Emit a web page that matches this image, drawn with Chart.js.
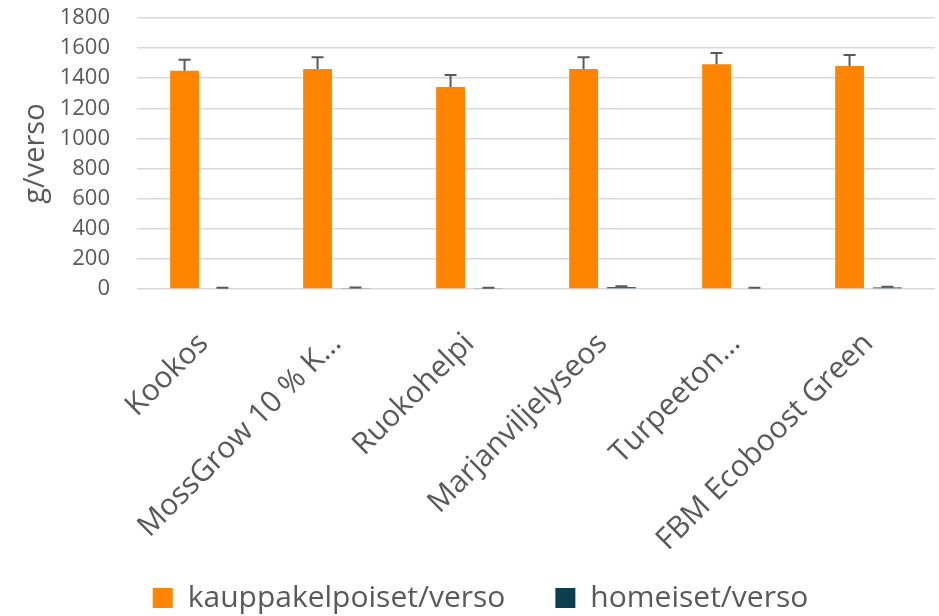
<!DOCTYPE html>
<html>
<head>
<meta charset="utf-8">
<script src="https://cdn.jsdelivr.net/npm/chart.js@4/dist/chart.umd.min.js"></script>
<style>
html,body{margin:0;padding:0;background:#fff;}
#wrap{width:939px;height:616px;position:relative;}
</style>
</head>
<body>
<div id="wrap"><canvas id="c" width="939" height="616"></canvas></div>
<script>
const categories = ["Kookos", "MossGrow 10 % K…", "Ruokohelpi", "Marjanviljelyseos", "Turpeeton…", "FBM Ecoboost Green"];
const kauppakelpoiset = [1449, 1462, 1342, 1462, 1493, 1482];
const kauppakelpoisetErr = [73, 78, 80, 78, 74, 73];
const homeiset = [5, 6, 4, 12, 5, 10];
const homeisetErr = [4, 4, 4, 6, 4, 5];
const yTicks = [0, 200, 400, 600, 800, 1000, 1200, 1400, 1600, 1800];

const errorValues = [kauppakelpoisetErr, homeisetErr];

const errorBarPlugin = {
  id: 'errorBars',
  afterDatasetsDraw(chart) {
    const ctx = chart.ctx;
    const y = chart.scales.y;
    ctx.save();
    ctx.strokeStyle = '#595959';
    ctx.lineWidth = 2;
    chart.data.datasets.forEach((ds, i) => {
      const meta = chart.getDatasetMeta(i);
      meta.data.forEach((bar, j) => {
        const v = ds.data[j];
        const e = errorValues[i][j];
        const yTop = y.getPixelForValue(v + e);
        const yBase = y.getPixelForValue(v);
        const x = bar.x;
        ctx.beginPath();
        ctx.moveTo(x, yBase);
        ctx.lineTo(x, yTop);
        ctx.moveTo(x - 6, yTop);
        ctx.lineTo(x + 6, yTop);
        ctx.stroke();
      });
    });
    ctx.restore();
  }
};

const legendShift = {
  id: 'legendShift',
  afterLayout(chart) {
    if (chart.legend) { chart.legend.left += 13; chart.legend.right += 13; }
  }
};

new Chart(document.getElementById('c'), {
  type: 'bar',
  data: {
    labels: categories,
    datasets: [
      { label: 'kauppakelpoiset/verso', data: kauppakelpoiset, backgroundColor: '#ff8400', categoryPercentage: 0.57, barPercentage: 0.76 },
      { label: 'homeiset/verso', data: homeiset, backgroundColor: '#0b3f4e', categoryPercentage: 0.57, barPercentage: 0.76 }
    ]
  },
  options: {
    responsive: false,
    animation: false,
    layout: { padding: { left: 0, right: 4, top: 18, bottom: -7 } },
    plugins: {
      legend: {
        position: 'bottom',
        labels: {
          color: '#595959',
          font: { family: 'Open Sans', size: 30 },
          boxWidth: 20, boxHeight: 20, padding: 50
        }
      },
      tooltip: { enabled: false }
    },
    scales: {
      x: {
        grid: { display: false },
        border: { display: false },
        afterFit(axis) {
          axis.paddingLeft = 0; axis.paddingRight = 0;
          axis.height = 244;
          axis._computeLabelArea = () => undefined;
        },
        ticks: {
          color: '#595959',
          font: { family: 'Open Sans', size: 30 },
          minRotation: 45, maxRotation: 45,
          padding: 29
        }
      },
      y: {
        min: 0, max: 1800,
        afterBuildTicks(axis) { axis.ticks = yTicks.map(v => ({ value: v })); },
        afterFit(axis) { axis.width = 137; axis.paddingTop = 0; axis.paddingBottom = 0; },
        grid: { color: '#d9d9d9', lineWidth: 1.5, drawTicks: false },
        border: { display: false },
        ticks: {
          color: '#595959',
          font: { family: 'Open Sans', size: 22 },
          padding: 27,
          autoSkip: false,
          callback: (v) => String(v)
        },
        title: {
          display: true, text: 'g/verso', color: '#595959',
          font: { family: 'Open Sans', size: 29 }, padding: { top: 18, bottom: 0 }
        }
      }
    }
  },
  plugins: [errorBarPlugin, legendShift]
});
</script>
</body>
</html>
